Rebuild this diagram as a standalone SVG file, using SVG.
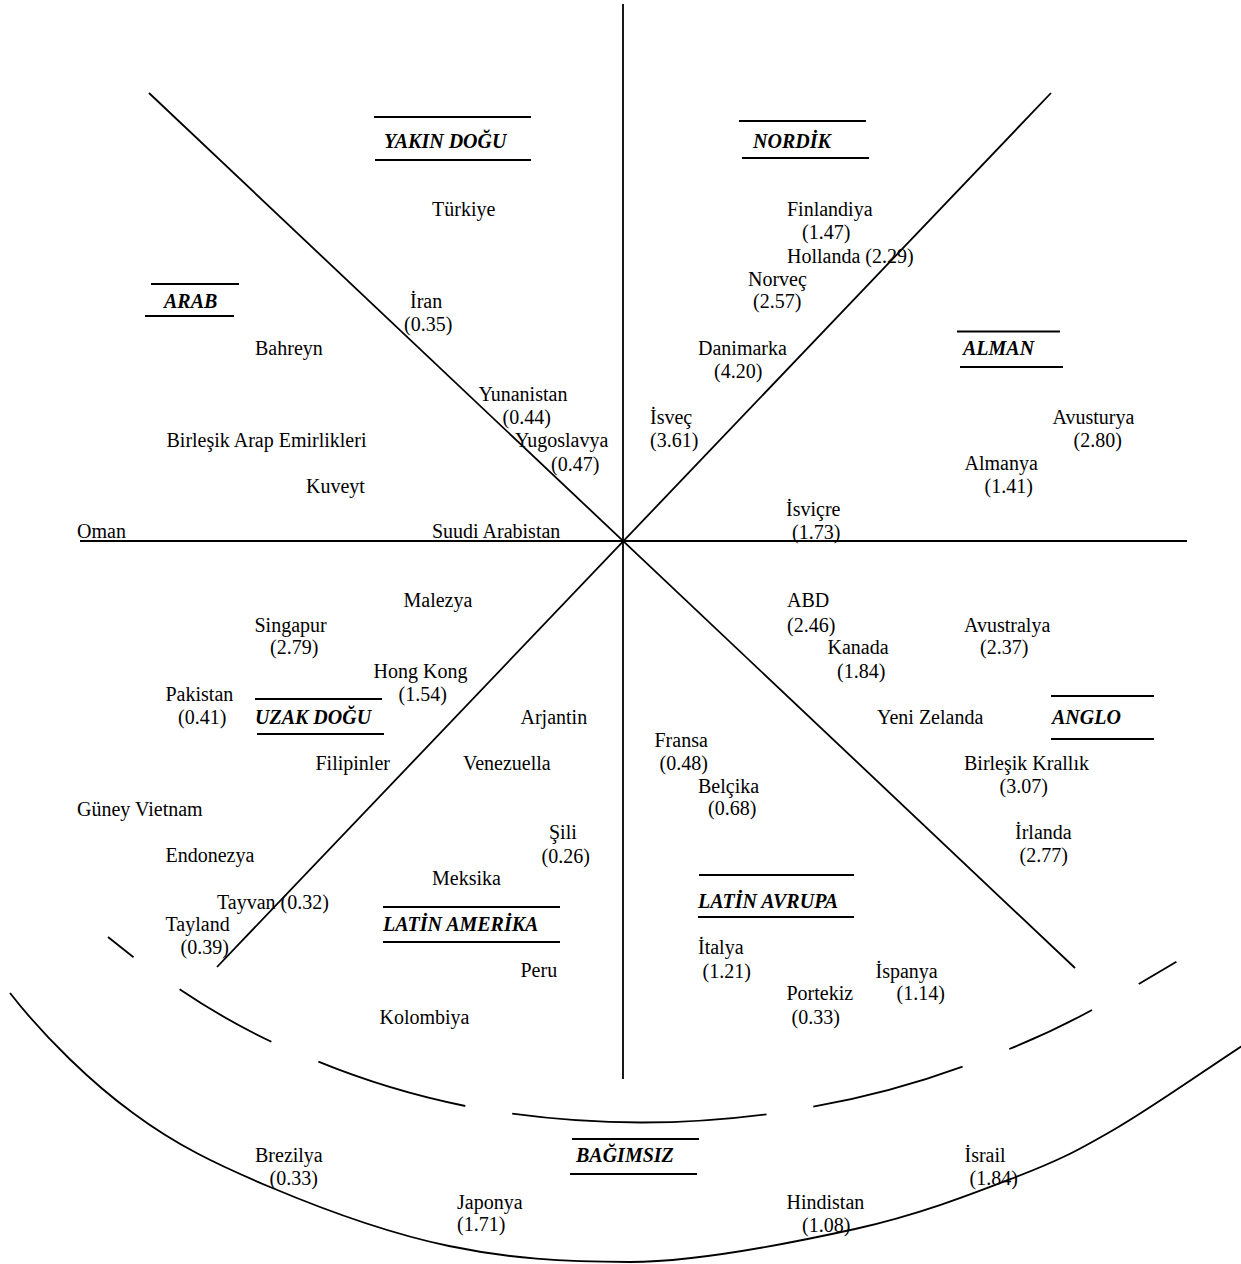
<svg xmlns="http://www.w3.org/2000/svg" width="1241" height="1264" viewBox="0 0 1241 1264">
<style>
text { font-family: "Liberation Serif", "Times New Roman", serif; font-size: 20px; fill: #000; }
.h { font-weight: bold; font-style: italic; }
.ln { stroke: #000; stroke-width: 1.8; fill: none; }
.rule { stroke: #000; stroke-width: 2; }
</style>
<rect width="1241" height="1264" fill="#fff"/>
<g id="connectors">
<line class="ln" x1="623" y1="4" x2="623" y2="1079"/>
<line class="ln" x1="80" y1="541" x2="1187" y2="541"/>
<line class="ln" x1="149" y1="93" x2="1075" y2="968"/>
<line class="ln" x1="1051" y1="93" x2="217" y2="967"/>
<path class="ln" d="M108,937 L133.5,957.3"/>
<path class="ln" d="M179.6,989.3 Q223.5,1019 271.4,1041.7"/>
<path class="ln" d="M318.4,1061.7 Q389.7,1090.8 465.3,1106"/>
<path class="ln" d="M512.2,1113.7 Q639,1131 766.5,1114.3"/>
<path class="ln" d="M813.3,1106.7 Q889.7,1093.3 962.6,1066.7"/>
<path class="ln" d="M1009.3,1049 Q1051.8,1031.9 1092,1010"/>
<path class="ln" d="M1138.8,984 L1176.4,961.7"/>
<path class="ln" d="M10,993 C45,1038 93,1084 133,1113 C176.3,1145.3 217.3,1164.8 270,1187 C322.7,1209.2 389,1233.5 449,1246 C509,1258.5 562.3,1262 630,1262 C697.7,1262 790.7,1243.2 855,1229 C919.3,1214.8 972.7,1193.7 1016,1177 C1059.3,1160.3 1076.8,1151.2 1115,1129 C1153.2,1106.8 1201.7,1072.3 1245,1044"/>
</g>
<g id="region-yakin-dogu"><line class="rule" x1="374" y1="117" x2="531" y2="117"/><text class="h" x="384" y="148">YAKIN DOĞU</text><line class="rule" x1="375" y1="160" x2="531" y2="160"/></g>
<g id="region-nordik"><line class="rule" x1="739" y1="121" x2="866" y2="121"/><text class="h" x="753" y="148">NORDİK</text><line class="rule" x1="742" y1="158" x2="869" y2="158"/></g>
<g id="region-alman"><line class="rule" x1="957" y1="331.5" x2="1060" y2="331.5"/><text class="h" x="963" y="355">ALMAN</text><line class="rule" x1="960" y1="367" x2="1063" y2="367"/></g>
<g id="region-arab"><line class="rule" x1="151" y1="284" x2="239" y2="284"/><text class="h" x="164" y="308">ARAB</text><line class="rule" x1="145" y1="316" x2="234" y2="316"/></g>
<g id="region-uzak-dogu"><line class="rule" x1="255" y1="699" x2="382" y2="699"/><text class="h" x="255" y="724">UZAK DOĞU</text><line class="rule" x1="257" y1="734" x2="384" y2="734"/></g>
<g id="region-anglo"><line class="rule" x1="1051" y1="696" x2="1154" y2="696"/><text class="h" x="1052" y="723.5">ANGLO</text><line class="rule" x1="1051" y1="739" x2="1154" y2="739"/></g>
<g id="region-latin-avrupa"><line class="rule" x1="699" y1="875" x2="854" y2="875"/><text class="h" x="698" y="908">LATİN AVRUPA</text><line class="rule" x1="698" y1="917" x2="854" y2="917"/></g>
<g id="region-latin-amerika"><line class="rule" x1="383" y1="907" x2="560" y2="907"/><text class="h" x="383" y="931">LATİN AMERİKA</text><line class="rule" x1="383" y1="942" x2="560" y2="942"/></g>
<g id="region-bagimsiz"><line class="rule" x1="572" y1="1139" x2="699" y2="1139"/><text class="h" x="576" y="1162">BAĞIMSIZ</text><line class="rule" x1="570" y1="1174" x2="697" y2="1174"/></g>
<g id="turkiye"><text x="432" y="216">Türkiye</text></g>
<g id="iran"><text x="410" y="308">İran</text><text x="404" y="331">(0.35)</text></g>
<g id="finlandiya"><text x="787" y="216">Finlandiya</text><text x="802" y="238.5">(1.47)</text></g>
<g id="hollanda"><text x="787" y="262.5">Hollanda (2.29)</text></g>
<g id="norvec"><text x="748" y="286">Norveç</text><text x="753" y="307.5">(2.57)</text></g>
<g id="danimarka"><text x="698" y="355">Danimarka</text><text x="714" y="378">(4.20)</text></g>
<g id="bahreyn"><text x="255" y="355">Bahreyn</text></g>
<g id="yunanistan"><text x="478.5" y="401">Yunanistan</text><text x="502.5" y="424">(0.44)</text></g>
<g id="bae"><text x="166.5" y="447">Birleşik Arap Emirlikleri</text></g>
<g id="yugoslavya"><text x="515" y="447">Yugoslavya</text><text x="551" y="470.5">(0.47)</text></g>
<g id="kuveyt"><text x="306" y="493">Kuveyt</text></g>
<g id="oman"><text x="77" y="538">Oman</text></g>
<g id="suudi-arabistan"><text x="432" y="538">Suudi Arabistan</text></g>
<g id="isvec"><text x="650" y="424">İsveç</text><text x="650" y="447">(3.61)</text></g>
<g id="avusturya"><text x="1052.5" y="424">Avusturya</text><text x="1073.5" y="447">(2.80)</text></g>
<g id="almanya"><text x="964.5" y="470">Almanya</text><text x="984.5" y="493">(1.41)</text></g>
<g id="isvicre"><text x="786" y="516">İsviçre</text><text x="792" y="538.5">(1.73)</text></g>
<g id="malezya"><text x="403.5" y="607">Malezya</text></g>
<g id="singapur"><text x="254.5" y="631.5">Singapur</text><text x="270" y="654">(2.79)</text></g>
<g id="hong-kong"><text x="373.5" y="677.5">Hong Kong</text><text x="398.5" y="700.5">(1.54)</text></g>
<g id="pakistan"><text x="165.5" y="700.5">Pakistan</text><text x="178" y="723.5">(0.41)</text></g>
<g id="arjantin"><text x="520.5" y="723.5">Arjantin</text></g>
<g id="filipinler"><text x="315.5" y="769.5">Filipinler</text></g>
<g id="venezuella"><text x="463" y="769.5">Venezuella</text></g>
<g id="guney-vietnam"><text x="77" y="815.5">Güney Vietnam</text></g>
<g id="sili"><text x="549" y="839">Şili</text><text x="541.5" y="862.5">(0.26)</text></g>
<g id="endonezya"><text x="165.5" y="861.5">Endonezya</text></g>
<g id="meksika"><text x="432" y="885">Meksika</text></g>
<g id="tayvan"><text x="217" y="908.5">Tayvan (0.32)</text></g>
<g id="tayland"><text x="165.5" y="930.5">Tayland</text><text x="180.5" y="954">(0.39)</text></g>
<g id="peru"><text x="520.5" y="976.5">Peru</text></g>
<g id="kolombiya"><text x="379.5" y="1023.5">Kolombiya</text></g>
<g id="brezilya"><text x="255" y="1161.5">Brezilya</text><text x="269.5" y="1185">(0.33)</text></g>
<g id="japonya"><text x="457" y="1208.5">Japonya</text><text x="457" y="1231">(1.71)</text></g>
<g id="abd"><text x="787" y="607">ABD</text><text x="787" y="631.5">(2.46)</text></g>
<g id="avustralya"><text x="964" y="631.5">Avustralya</text><text x="980" y="654">(2.37)</text></g>
<g id="kanada"><text x="827.5" y="653.5">Kanada</text><text x="837" y="677.5">(1.84)</text></g>
<g id="yeni-zelanda"><text x="877" y="723.5">Yeni Zelanda</text></g>
<g id="fransa"><text x="654.5" y="746.5">Fransa</text><text x="659.5" y="769.5">(0.48)</text></g>
<g id="birlesik-krallik"><text x="964" y="769.5">Birleşik Krallık</text><text x="999.5" y="792.5">(3.07)</text></g>
<g id="belcika"><text x="698" y="792.5">Belçika</text><text x="708" y="815">(0.68)</text></g>
<g id="irlanda"><text x="1015" y="838.5">İrlanda</text><text x="1019.5" y="861.5">(2.77)</text></g>
<g id="italya"><text x="698" y="954">İtalya</text><text x="702.5" y="977.5">(1.21)</text></g>
<g id="ispanya"><text x="875.5" y="977.5">İspanya</text><text x="896.5" y="1000">(1.14)</text></g>
<g id="portekiz"><text x="786.5" y="1000">Portekiz</text><text x="791.5" y="1023.5">(0.33)</text></g>
<g id="israil"><text x="964.5" y="1161.5">İsrail</text><text x="969.5" y="1185">(1.84)</text></g>
<g id="hindistan"><text x="786.5" y="1208.5">Hindistan</text><text x="802" y="1231.5">(1.08)</text></g>
</svg>
